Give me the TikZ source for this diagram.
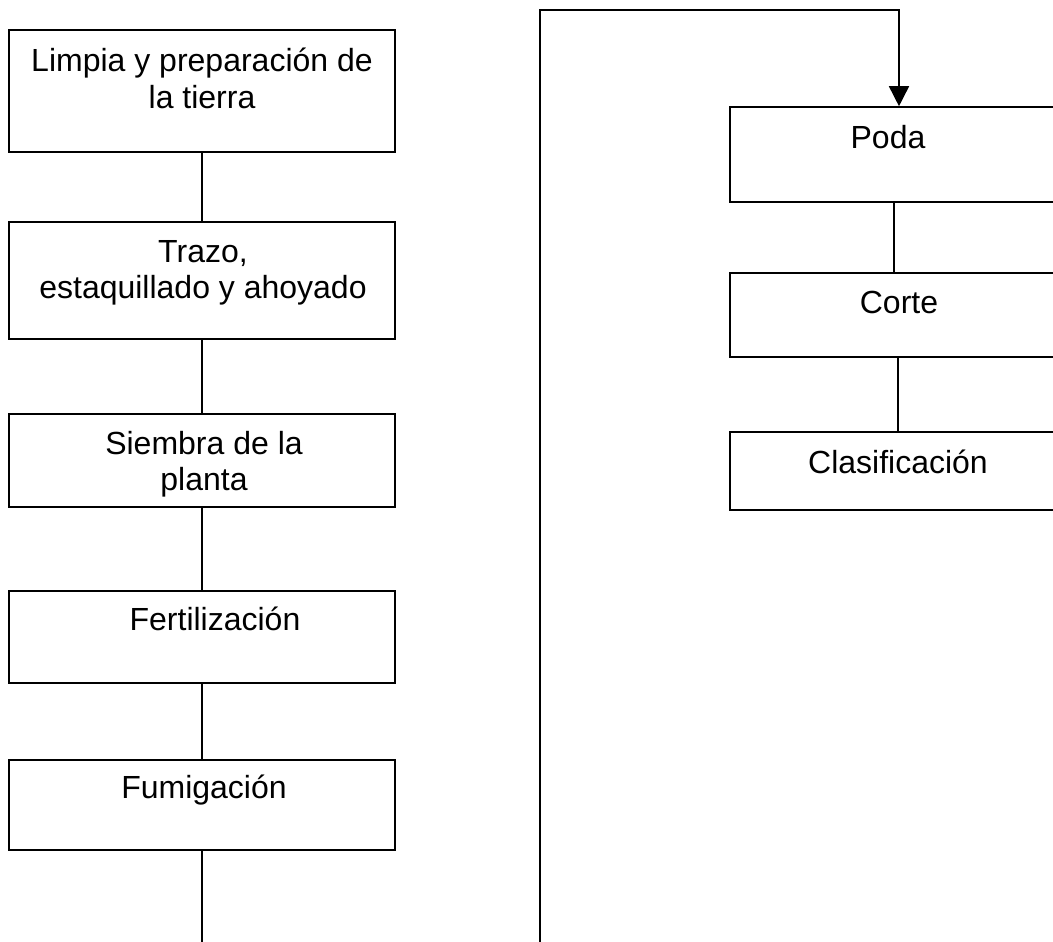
\documentclass[tikz,border=0pt]{standalone}
\usepackage{fontspec}
\setmainfont{Liberation Sans}
\usetikzlibrary{arrows.meta,calc}
\tikzset{
  box/.style={draw=black, line width=1.6pt, rectangle, inner sep=0pt, fill=none},
  lbox/.style={box, minimum width=386pt},
  rbox/.style={box, minimum width=338pt},
  txt/.style={font=\fontsize{32}{36}\selectfont, align=center, inner sep=0pt, anchor=base},
  conn/.style={draw=black, line width=1.6pt},
  arr/.style={conn, -{Triangle[width=20pt,length=20pt]}}
}
\begin{document}
\begin{tikzpicture}[x=1pt,y=-1pt]
\useasboundingbox (0,0) rectangle (1053,942);
\clip (0,0) rectangle (1053,942);
\fill[white] (0,0) rectangle (1053,942);
% left column
\node[lbox, minimum height=122pt] (b1) at (202,91) {};
\node[lbox, minimum height=117pt] (b2) at (202,280.5) {};
\node[lbox, minimum height=93pt] (b3) at (202,460.5) {};
\node[lbox, minimum height=92pt] (b4) at (202,637) {};
\node[lbox, minimum height=90pt] (b5) at (202,805) {};
\node[txt] (t1) at (202,108) {Limpia y preparación de\\la tierra};
\node[txt] (t2) at (203,298) {Trazo,\\estaquillado y ahoyado};
\node[txt] (t3) at (204,490) {Siembra de la\\planta};
\node[txt] (t4) at (215,630) {Fertilización};
\node[txt] (t5) at (204,798) {Fumigación};
% right column
\node[rbox, minimum height=95pt] (r1) at (899,154.5) {};
\node[rbox, minimum height=84pt] (r2) at (899,315) {};
\node[rbox, minimum height=78pt] (r3) at (899,471) {};
\node[txt] (u1) at (888,148) {Poda};
\node[txt] (u2) at (899,313) {Corte};
\node[txt] (u3) at (898,473) {Clasificación};
% connectors
\draw[conn] (b1.south) -- (b2.north);
\draw[conn] (b2.south) -- (b3.north);
\draw[conn] (b3.south) -- (b4.north);
\draw[conn] (b4.south) -- (b5.north);
\coordinate (lend) at (202,950);
\draw[conn] (b5.south) -- (lend);
\coordinate (rstart) at (540,950);
\coordinate (rtop) at (899,10);
\draw[arr] (rstart) |- (rtop) -- (r1.north -| rtop);
\coordinate (c1) at (894,0);
\coordinate (c2) at (898,0);
\draw[conn] (r1.south -| c1) -- (r2.north -| c1);
\draw[conn] (r2.south -| c2) -- (r3.north -| c2);
\end{tikzpicture}
\end{document}
